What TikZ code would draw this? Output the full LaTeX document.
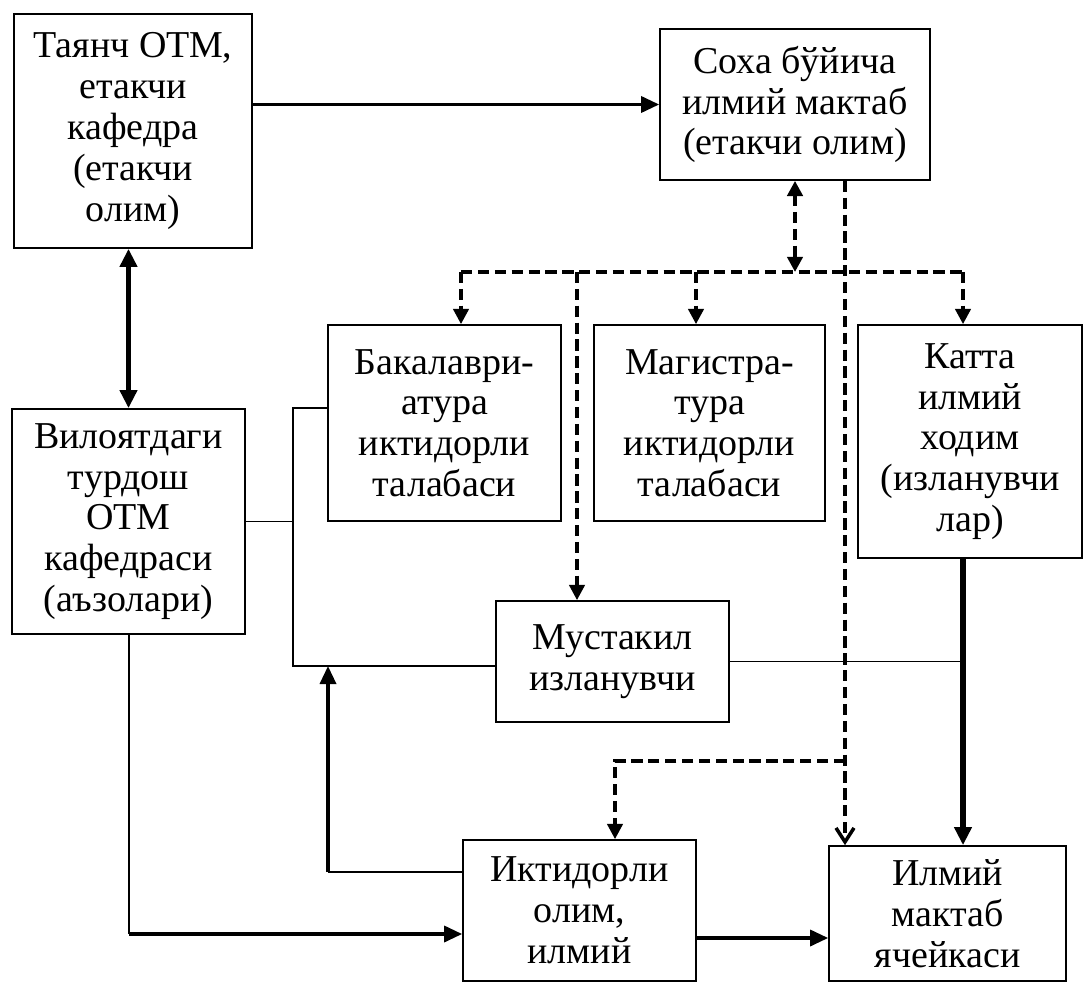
\documentclass[tikz,border=0pt]{standalone}
\usepackage{fontspec}
\setmainfont{Liberation Serif}
\usetikzlibrary{arrows.meta,calc,positioning}

\begin{document}
\begin{tikzpicture}[
  x=0.025cm, y=-0.025cm,
  every node/.style={font=\fontsize{27}{29}\selectfont},
  box/.style 2 args={draw, line width=1.2pt, align=center, inner sep=0pt, minimum width=#1*0.025cm, minimum height=#2*0.025cm},
  arrow/.style={-{Triangle[length=4.5mm, width=4mm]}, line width=2.4pt},
  bigarrow/.style={-{Triangle[length=4.5mm, width=4.2mm]}, line width=3.6pt},
  dashline/.style={line width=2.5pt, dash pattern=on 8pt off 4pt},
  dasharrow/.style={dashline, -{Triangle[length=3.8mm, width=3.8mm]}},
  link/.style={line width=1.3pt}
]
\useasboundingbox (0,0) rectangle (1083,983);
% blocks
\node[box={238}{234}] (tayanch) at (133,131) {Таянч ОТМ,\\етакчи\\кафедра\\(етакчи\\олим)};
\node[box={270}{151}] (soha) at (795,104.5) {Соха бўйича\\илмий мактаб\\(етакчи олим)};
\node[box={233}{225}] (viloyat) at (128.5,521.5) {Вилоятдаги\\турдош\\ОТМ\\кафедраси\\(аъзолари)};
\node[box={233}{196}] (bakalavr) at (444.5,423) {Бакалаври-\\атура\\иктидорли\\талабаси};
\node[box={231}{196}] (magistr) at (709.5,423) {Магистра-\\тура\\иктидорли\\талабаси};
\node[box={224}{233}] (katta) at (970,441.5) {Катта\\илмий\\ходим\\(изланувчи\\лар)};
\node[box={233}{121}] (mustaqil) at (612.5,661.5) {Мустакил\\изланувчи};
\node[box={233}{141}] (iqtidor) at (579.5,910.5) {Иктидорли\\олим,\\илмий};
\node[box={237}{135}] (ilmiy) at (947.5,913.5) {Илмий\\мактаб\\ячейкаси};

% solid connectors
\draw[arrow] (tayanch.east |- soha.west) -- (soha.west);
\draw[bigarrow, {Triangle[length=4.5mm, width=4.2mm]}-{Triangle[length=4.5mm, width=4.2mm]}] (tayanch.south -| viloyat.north) -- (viloyat.north);
\draw[bigarrow] (963,0 |- katta.south) -- (963,0 |- ilmiy.north);
\draw[arrow] (iqtidor.east |- 0,938) -- (ilmiy.west |- 0,938);

% bus on the left
\coordinate (busT) at (293,408);
\coordinate (busB) at (293,666);
\draw[link] (bakalavr.west |- busT) -- (busT) -- (busB) -- (busB -| mustaqil.west);
\draw[link] (viloyat.east) -- (viloyat.east -| busT);
\draw[link] (mustaqil.east) -- (963,0 |- mustaqil.east);
\draw[link] (129,0 |- viloyat.south) -- (129,934);
\draw[arrow] (129,934) -- (129,934 -| iqtidor.west);
\draw[link] (iqtidor.west |- 0,872) -- (328,872);
\draw[arrow] (328,872) -- (328,0 |- busB);

% dashed connectors
\coordinate (hub) at (soha.south |- 0,272);
\draw[dashline, line width=3.4pt, {Triangle[length=3.8mm, width=3.8mm]}-{Triangle[length=3.8mm, width=3.8mm]}] (soha.south) -- (hub);
\draw[dashline] (461,272) -- (963,272);
\foreach \xx/\tgt in {461/bakalavr, 577/mustaqil, 696/magistr, 963/katta}
  \draw[dasharrow] (\xx,272) -- (\xx,0 |- \tgt.north);
\draw[dashline, -{Straight Barb[length=3.5mm, width=4.5mm]}] (845,0 |- soha.south) -- (845,0 |- ilmiy.north);
\draw[dasharrow] (845,761) -- (615,761) -- (615,0 |- iqtidor.north);
\end{tikzpicture}
\end{document}
